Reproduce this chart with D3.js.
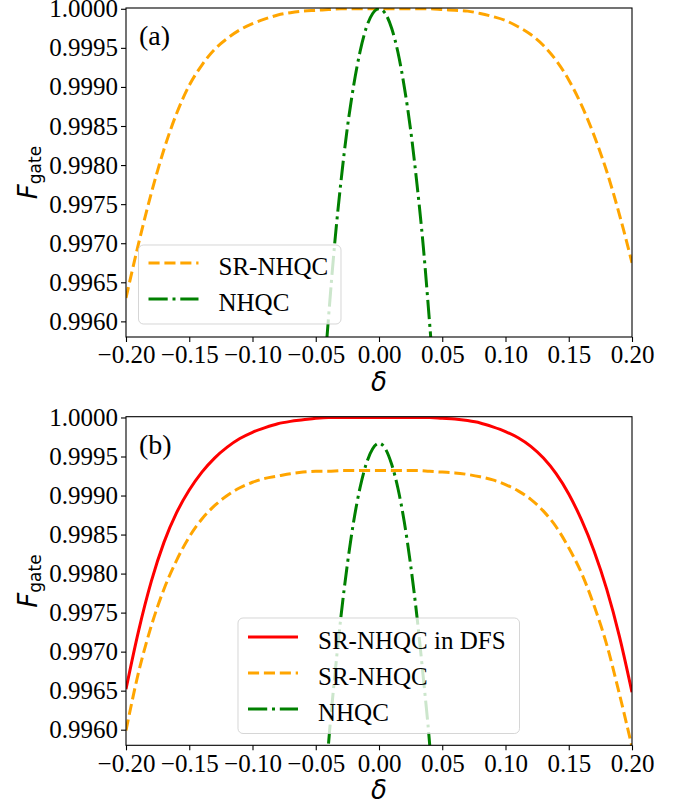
<!DOCTYPE html>
<html>
<head>
<meta charset="utf-8">
<title>Fgate vs delta</title>
<script src="https://d3js.org/d3.v7.min.js"></script>
<style>
  body { margin: 0; background: #fff; }
  .tick text { font-family: "Liberation Serif", "Times New Roman", serif; font-size: 25px; fill: #000; }
  .tick line { stroke: #000; stroke-width: 1.1; }
</style>
</head>
<body>
<div id="chart"></div>
<script>
// delta grids
var deltaWide = d3.range(-20, 21).map(function(i) { return i / 100; });   // -0.20 .. 0.20, step 0.01
var deltaNarrow = d3.range(-9, 10).map(function(i) { return i / 200; });  // -0.045 .. 0.045, step 0.005

// panel (a)
var srA = [0.99630, 0.99700, 0.99764, 0.99820, 0.99866, 0.99902, 0.99928, 0.99948, 0.99962, 0.99973,
           0.99981, 0.99987, 0.99992, 0.99995, 0.99997, 0.99998, 0.99999, 1.00000, 1.00000, 1.00000,
           1.00000, 1.00000, 1.00000, 1.00000, 1.00000, 0.99999, 0.99998, 0.99997, 0.99994, 0.99990,
           0.99985, 0.99977, 0.99967, 0.99953, 0.99934, 0.99909, 0.99877, 0.99838, 0.99792, 0.99737,
           0.99675];
var nhA = [0.99497, 0.99603, 0.99700, 0.99780, 0.99848, 0.99902, 0.99945, 0.99976, 0.99994, 1.00000,
           0.99994, 0.99975, 0.99944, 0.99900, 0.99845, 0.99776, 0.99696, 0.99598, 0.99492];

// panel (b)
var dfsB = [0.99652, 0.99727, 0.99790, 0.99840, 0.99878, 0.99907, 0.99930, 0.99948, 0.99962, 0.99973,
            0.99981, 0.99987, 0.99992, 0.99995, 0.99997, 0.99999, 1.00000, 1.00000, 1.00000, 1.00000,
            1.00000, 1.00000, 1.00000, 1.00000, 1.00000, 0.99999, 0.99998, 0.99996, 0.99993, 0.99988,
            0.99982, 0.99974, 0.99963, 0.99948, 0.99928, 0.99902, 0.99869, 0.99829, 0.99780, 0.99720,
            0.99648];
var srB = [0.99599, 0.99674, 0.99733, 0.99780, 0.99817, 0.99847, 0.99870, 0.99887, 0.99900, 0.99910,
           0.99917, 0.99922, 0.99925, 0.99928, 0.99930, 0.99931, 0.99931, 0.99932, 0.99932, 0.99932,
           0.99932, 0.99932, 0.99932, 0.99932, 0.99931, 0.99930, 0.99929, 0.99927, 0.99924, 0.99920,
           0.99914, 0.99906, 0.99895, 0.99880, 0.99860, 0.99833, 0.99801, 0.99759, 0.99709, 0.99646,
           0.99578];
var nhB = [0.99460, 0.99580, 0.99668, 0.99746, 0.99812, 0.99867, 0.99910, 0.99941, 0.99960, 0.99967,
           0.99960, 0.99940, 0.99909, 0.99866, 0.99811, 0.99745, 0.99667, 0.99582, 0.99462];

var xTicks = [-0.20, -0.15, -0.10, -0.05, 0.00, 0.05, 0.10, 0.15, 0.20];
var yTicks = [0.9960, 0.9965, 0.9970, 0.9975, 0.9980, 0.9985, 0.9990, 0.9995, 1.0000];

var width = 694, height = 808;
var svg = d3.select("#chart").append("svg")
  .attr("width", width).attr("height", height);

var x = d3.scaleLinear().domain([-0.2, 0.2]).range([126, 632]);

var styles = {
  dfs: {color: "red", dash: null},
  sr: {color: "orange", dash: "11.1,4.8"},
  nh: {color: "green", dash: "19.2,4.8,3,4.8"}
};

var panels = [
  {id: "a", top: 8, bottom: 337, label: "(a)",
   series: [{key: "sr", xs: deltaWide, ys: srA, name: "SR-NHQC"},
            {key: "nh", xs: deltaNarrow, ys: nhA, name: "NHQC"}],
   legend: {x: 138.5, y: 245, w: 202.5, h: 79, rows: [263, 299]}},
  {id: "b", top: 416.7, bottom: 745.3, label: "(b)",
   series: [{key: "dfs", xs: deltaWide, ys: dfsB, name: "SR-NHQC in DFS"},
            {key: "sr", xs: deltaWide, ys: srB, name: "SR-NHQC"},
            {key: "nh", xs: deltaNarrow, ys: nhB, name: "NHQC"}],
   legend: {x: 238, y: 618, w: 281.5, h: 115.5, rows: [637, 673, 709]}}
];

panels.forEach(function(p) {
  var y = d3.scaleLinear().domain([0.99580, 1.00001]).range([p.bottom, p.top]);
  var g = svg.append("g");

  g.append("clipPath").attr("id", "clip-" + p.id)
    .append("rect")
      .attr("x", x.range()[0]).attr("y", p.top)
      .attr("width", x.range()[1] - x.range()[0]).attr("height", p.bottom - p.top);

  // curves
  var line = d3.line()
    .x(function(d) { return x(d[0]); })
    .y(function(d) { return y(d[1]); })
    .curve(d3.curveMonotoneX);

  p.series.forEach(function(s) {
    var st = styles[s.key];
    g.append("path")
      .datum(s.xs.map(function(v, i) { return [v, s.ys[i]]; }))
      .attr("clip-path", "url(#clip-" + p.id + ")")
      .attr("d", line)
      .attr("fill", "none")
      .attr("stroke", st.color)
      .attr("stroke-width", 3)
      .attr("stroke-dasharray", st.dash);
  });

  // axes
  g.append("g")
    .attr("transform", "translate(0," + p.bottom + ")")
    .call(d3.axisBottom(x).tickValues(xTicks).tickFormat(d3.format(".2f")).tickSize(5).tickPadding(3.5))
    .call(function(a) { a.select(".domain").remove(); a.attr("font-family", null).attr("font-size", null); });

  g.append("g")
    .attr("transform", "translate(" + x.range()[0] + ",0)")
    .call(d3.axisLeft(y).tickValues(yTicks).tickFormat(d3.format(".4f")).tickSize(5).tickPadding(3))
    .call(function(a) { a.select(".domain").remove(); a.attr("font-family", null).attr("font-size", null); });

  // spines
  g.append("rect")
    .attr("x", x.range()[0]).attr("y", p.top)
    .attr("width", x.range()[1] - x.range()[0]).attr("height", p.bottom - p.top)
    .attr("fill", "none").attr("stroke", "#000").attr("stroke-width", 1.1);

  // panel label
  g.append("text")
    .attr("x", 139).attr("y", p.top + 37)
    .style("font-family", "'Liberation Serif', serif").style("font-size", "28px")
    .text(p.label);

  // y label
  var ylab = g.append("text")
    .attr("transform", "translate(37," + ((p.top + p.bottom) / 2) + ") rotate(-90)")
    .attr("text-anchor", "middle")
    .style("font-family", "'DejaVu Sans', sans-serif");
  ylab.append("tspan").style("font-style", "italic").style("font-size", "26px").text("F");
  ylab.append("tspan").attr("dy", 4).style("font-size", "17px").text("gate");

  // x label
  g.append("text")
    .attr("x", x(0)).attr("y", p.bottom + 54)
    .attr("text-anchor", "middle")
    .style("font-family", "'DejaVu Sans', sans-serif").style("font-style", "italic").style("font-size", "26px")
    .text("δ");

  // legend
  var L = p.legend;
  var lg = g.append("g");
  lg.append("rect")
    .attr("x", L.x).attr("y", L.y).attr("width", L.w).attr("height", L.h)
    .attr("rx", 5).attr("ry", 5)
    .attr("fill", "#fff").attr("fill-opacity", 0.8)
    .attr("stroke", "#ccc").attr("stroke-opacity", 0.8).attr("stroke-width", 1);
  p.series.forEach(function(s, i) {
    var st = styles[s.key];
    lg.append("line")
      .attr("x1", L.x + 10).attr("x2", L.x + 60)
      .attr("y1", L.rows[i]).attr("y2", L.rows[i])
      .attr("stroke", st.color).attr("stroke-width", 3)
      .attr("stroke-dasharray", st.dash);
    lg.append("text")
      .attr("x", L.x + 80).attr("y", L.rows[i] + 11.5)
      .style("font-family", "'Liberation Serif', serif").style("font-size", "25px")
      .text(s.name);
  });
});
</script>
</body>
</html>
